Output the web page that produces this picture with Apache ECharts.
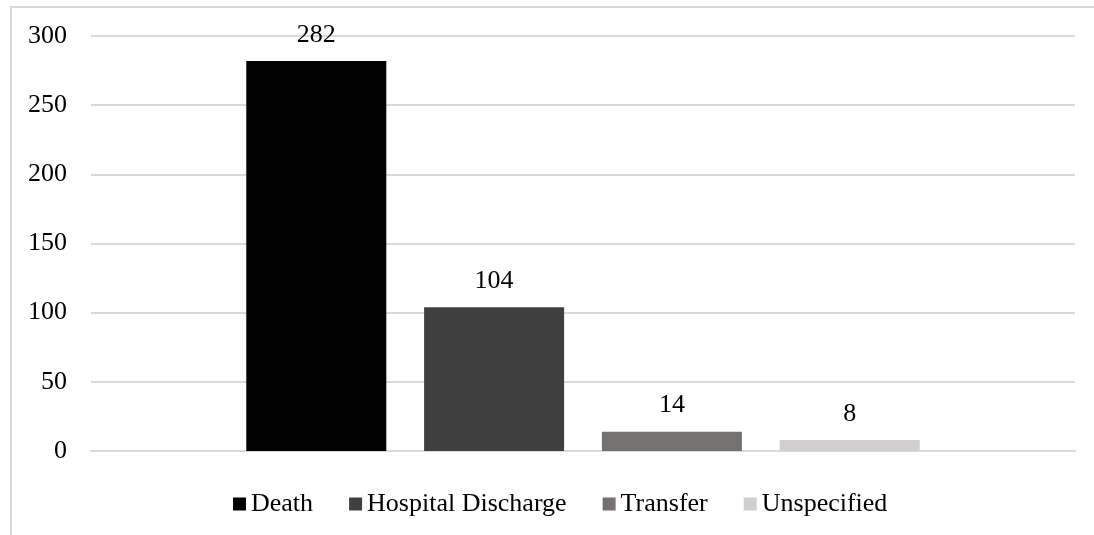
<!DOCTYPE html>
<html>
<head>
<meta charset="utf-8">
<script src="https://cdn.jsdelivr.net/npm/echarts@6/dist/echarts.min.js"></script>
<style>
  html, body { margin: 0; padding: 0; background: #fff; }
  .frame { position: absolute; left: 10px; top: 6px; width: 1100px; height: 540px; border: 2px solid #d9d9d9; box-sizing: border-box; }
  #chart { width: 1094px; height: 535px; position: absolute; left: 0; top: 0; }
</style>
</head>
<body>
<div class="frame"></div>
<div id="chart"></div>
<script>
  // outcome counts
  const categories = ['Outcome'];
  const seriesNames = ['Death', 'Hospital Discharge', 'Transfer', 'Unspecified'];
  const seriesValues = [282, 104, 14, 8];
  const seriesColors = ['#000000', '#404040', '#767171', '#d0cece'];
  const yTicks = [0, 50, 100, 150, 200, 250, 300];

  const FONT = '"Liberation Serif", "Times New Roman", serif';

  let series = seriesNames.map((name, i) => ({
    name: name,
    type: 'bar',
    barWidth: 140,
    barGap: '27%',
    itemStyle: { color: seriesColors[i] },
    label: {
      show: true,
      position: 'top',
      distance: 13,
      color: '#000',
      fontFamily: FONT,
      fontSize: 26
    },
    data: [seriesValues[i]]
  }));

  let option = {
    animation: false,
    grid: { left: 91, right: 19, top: 36, bottom: 84 },
    legend: {
      top: 486,
      left: 228,
      padding: [5, 5],
      itemWidth: 13,
      itemHeight: 13,
      itemGap: 36,
      icon: 'rect',
      textStyle: { fontFamily: FONT, fontSize: 26, color: '#000' },
      data: seriesNames
    },
    xAxis: {
      type: 'category',
      data: categories,
      axisLine: { lineStyle: { color: '#d9d9d9', width: 2 } },
      axisTick: { show: false },
      axisLabel: { show: false }
    },
    yAxis: {
      type: 'value',
      min: yTicks[0],
      max: yTicks[yTicks.length - 1],
      interval: 50,
      axisLine: { show: false },
      axisTick: { show: false },
      splitLine: { lineStyle: { color: '#d9d9d9', width: 2 } },
      axisLabel: { margin: 24, color: '#000', fontFamily: FONT, fontSize: 26 }
    },
    series: series
  };

  echarts.init(document.getElementById('chart')).setOption(option);
</script>
</body>
</html>
